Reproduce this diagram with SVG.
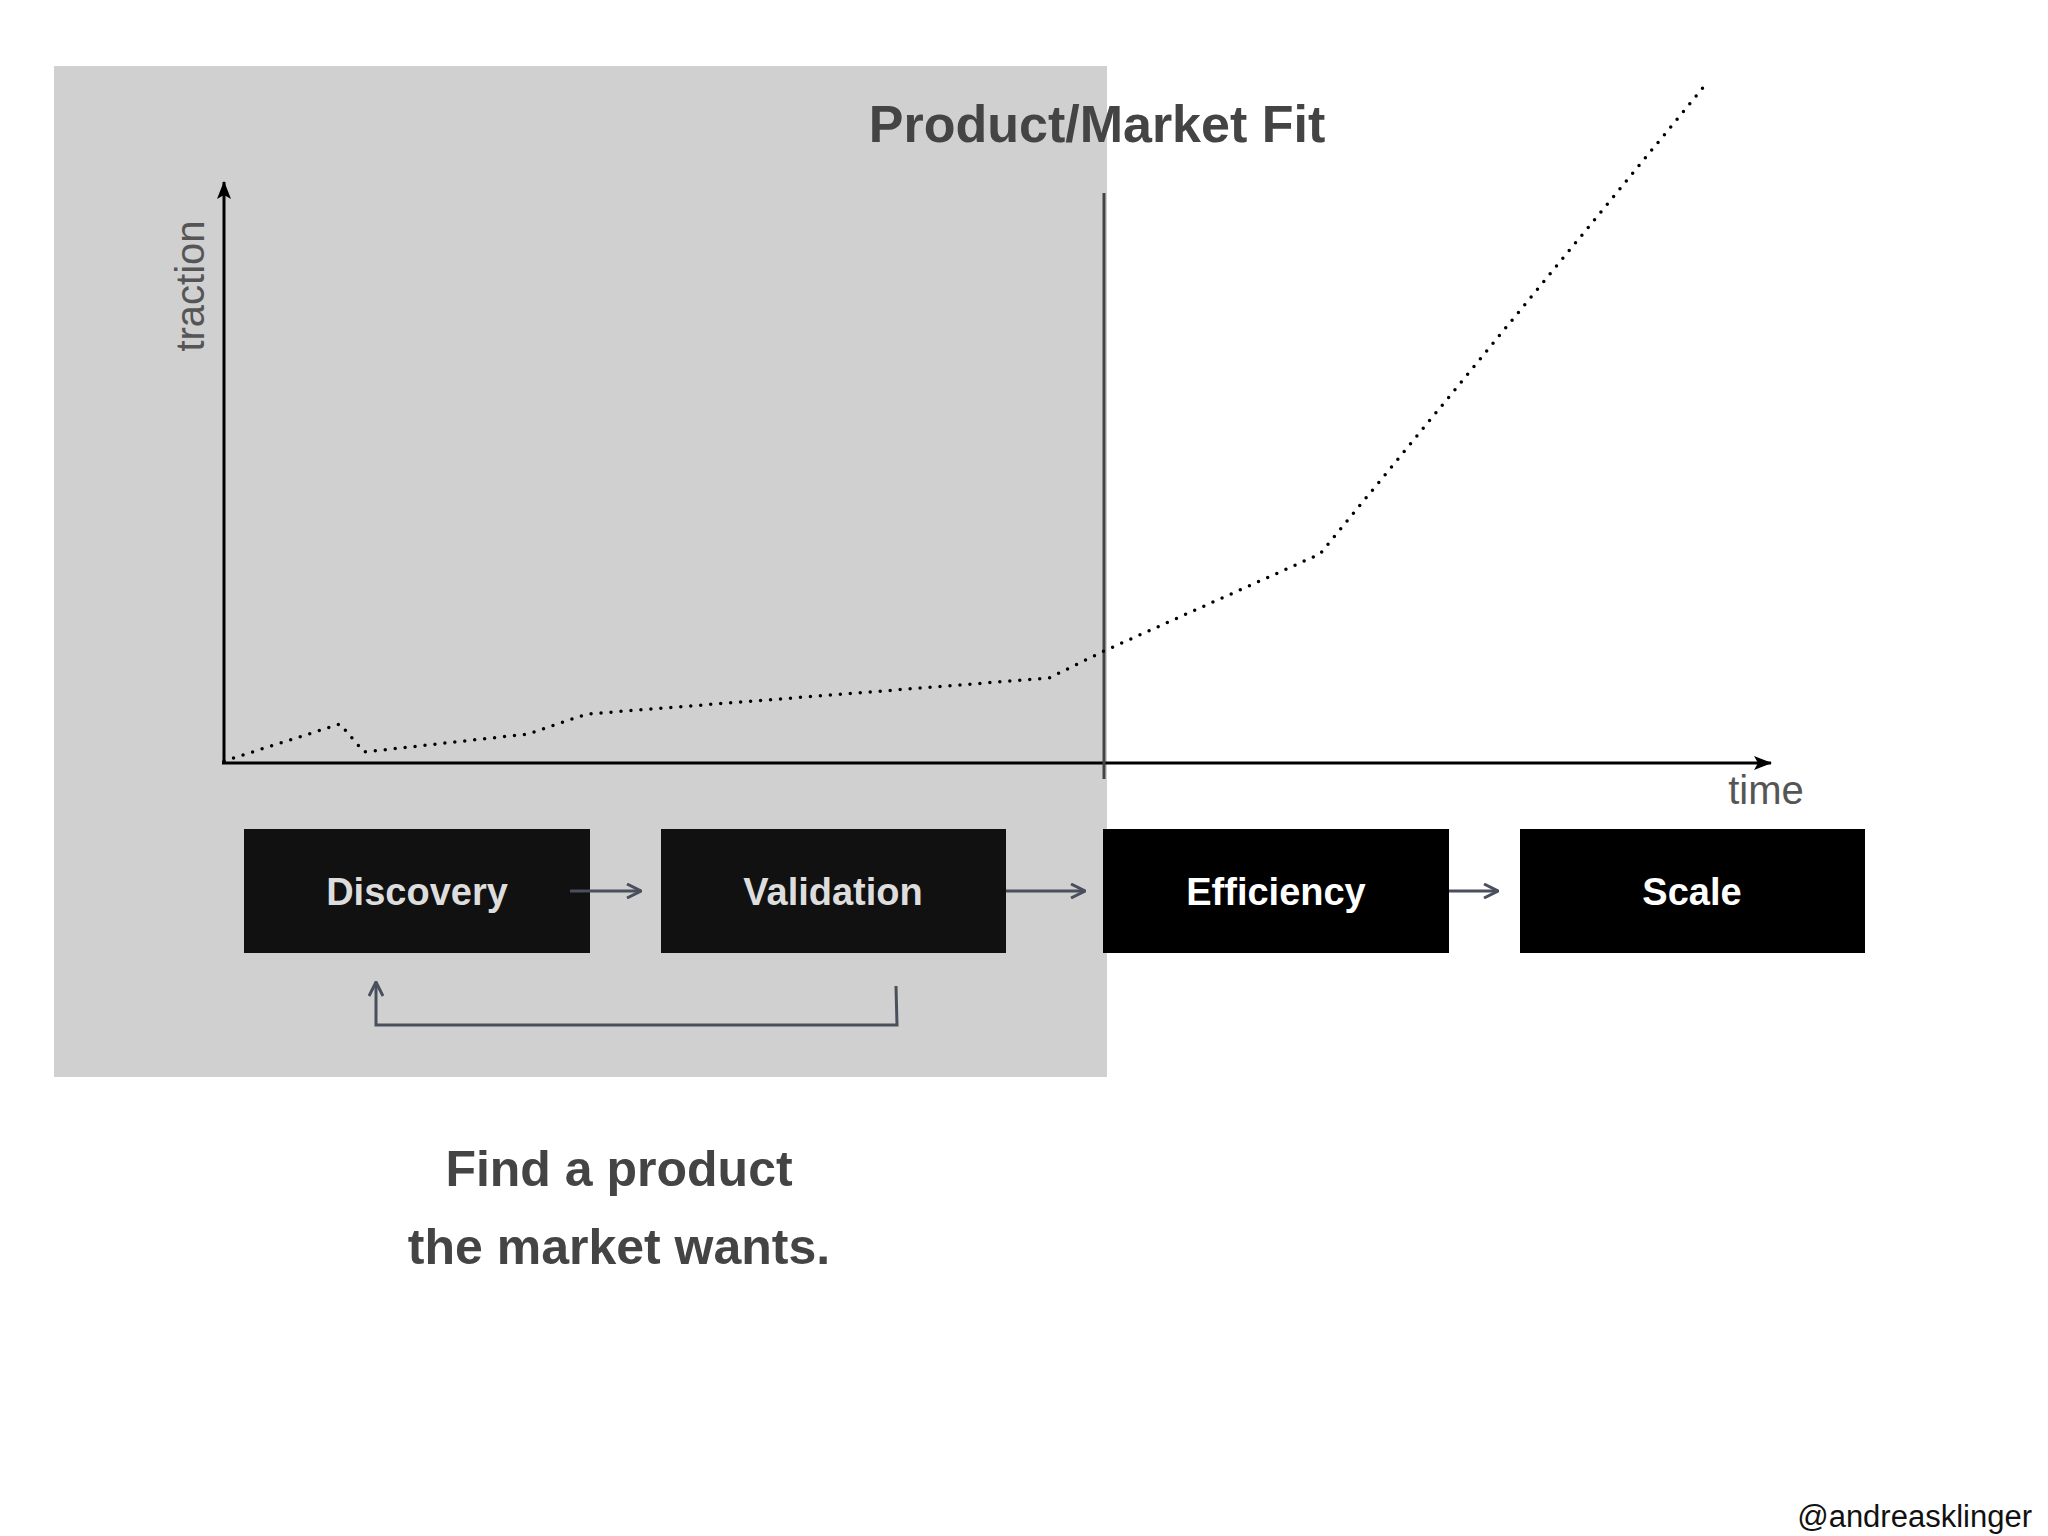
<svg xmlns="http://www.w3.org/2000/svg" width="2048" height="1536" viewBox="0 0 2048 1536">
<style>
text{font-family:"Liberation Sans",Arial,sans-serif}
.b{font-weight:bold}
.lbl{font-size:38px;font-weight:bold;text-anchor:middle}
.con{stroke:#4a4f5e;stroke-width:3;fill:none}
</style>
<defs>
<marker id="a" markerWidth="16" markerHeight="16" refX="15" refY="8" orient="auto" markerUnits="userSpaceOnUse"><path d="M1,1 L15,8 L1,15" fill="none" stroke="#4a4f5e" stroke-width="3"/></marker>
<marker id="k" markerWidth="18" markerHeight="14" refX="17" refY="7" orient="auto" markerUnits="userSpaceOnUse"><path d="M0,0 L18,7 L0,14 L4,7 z" fill="#000"/></marker>
</defs>
<rect width="2048" height="1536" fill="#fff"/>
<rect x="54" y="66" width="1053" height="1011" fill="#d0d0d1"/>
<g id="chart">
<line x1="224" y1="763" x2="224" y2="182" stroke="#000" stroke-width="3" marker-end="url(#k)"/>
<line x1="222" y1="763" x2="1771" y2="763" stroke="#000" stroke-width="3" marker-end="url(#k)"/>
<line x1="1104" y1="193" x2="1104" y2="779" stroke="#444" stroke-width="3"/>
<polyline points="224,761 340,724 364,752 528,734 587,714 1049,678 1104,651 1320,554 1706,84" fill="none" stroke="#000" stroke-width="3.5" stroke-dasharray="0 10" stroke-linecap="round"/>
<text x="1097" y="142" font-size="52" class="b" fill="#444" text-anchor="middle">Product/Market Fit</text>
<text transform="translate(204,286) rotate(-90)" font-size="40" fill="#555" text-anchor="middle">traction</text>
<text x="1766" y="804" font-size="40" fill="#555" text-anchor="middle">time</text>
</g>
<g id="discovery"><rect x="244" y="829" width="346" height="124" fill="#111"/><text class="lbl" x="417" y="905" fill="#ddd">Discovery</text></g>
<g id="validation"><rect x="661" y="829" width="345" height="124" fill="#111"/><text class="lbl" x="833" y="905" fill="#ddd">Validation</text></g>
<g id="efficiency"><rect x="1103" y="829" width="346" height="124" fill="#000"/><text class="lbl" x="1276" y="905" fill="#fff">Efficiency</text></g>
<g id="scale"><rect x="1520" y="829" width="345" height="124" fill="#000"/><text class="lbl" x="1692" y="905" fill="#fff">Scale</text></g>
<g id="connectors">
<line class="con" x1="570" y1="891" x2="641" y2="891" marker-end="url(#a)"/>
<line class="con" x1="1006" y1="891" x2="1085" y2="891" marker-end="url(#a)"/>
<line class="con" x1="1449" y1="891" x2="1498" y2="891" marker-end="url(#a)"/>
<polyline class="con" points="896,986 897,1025 376,1025 376,982" marker-end="url(#a)"/>
</g>
<text x="619" y="1186" font-size="50" class="b" fill="#444" text-anchor="middle">Find a product</text>
<text x="619" y="1264" font-size="50" class="b" fill="#444" text-anchor="middle">the market wants.</text>
<text x="2032" y="1527" font-size="31" fill="#111" text-anchor="end">@andreasklinger</text>
</svg>
